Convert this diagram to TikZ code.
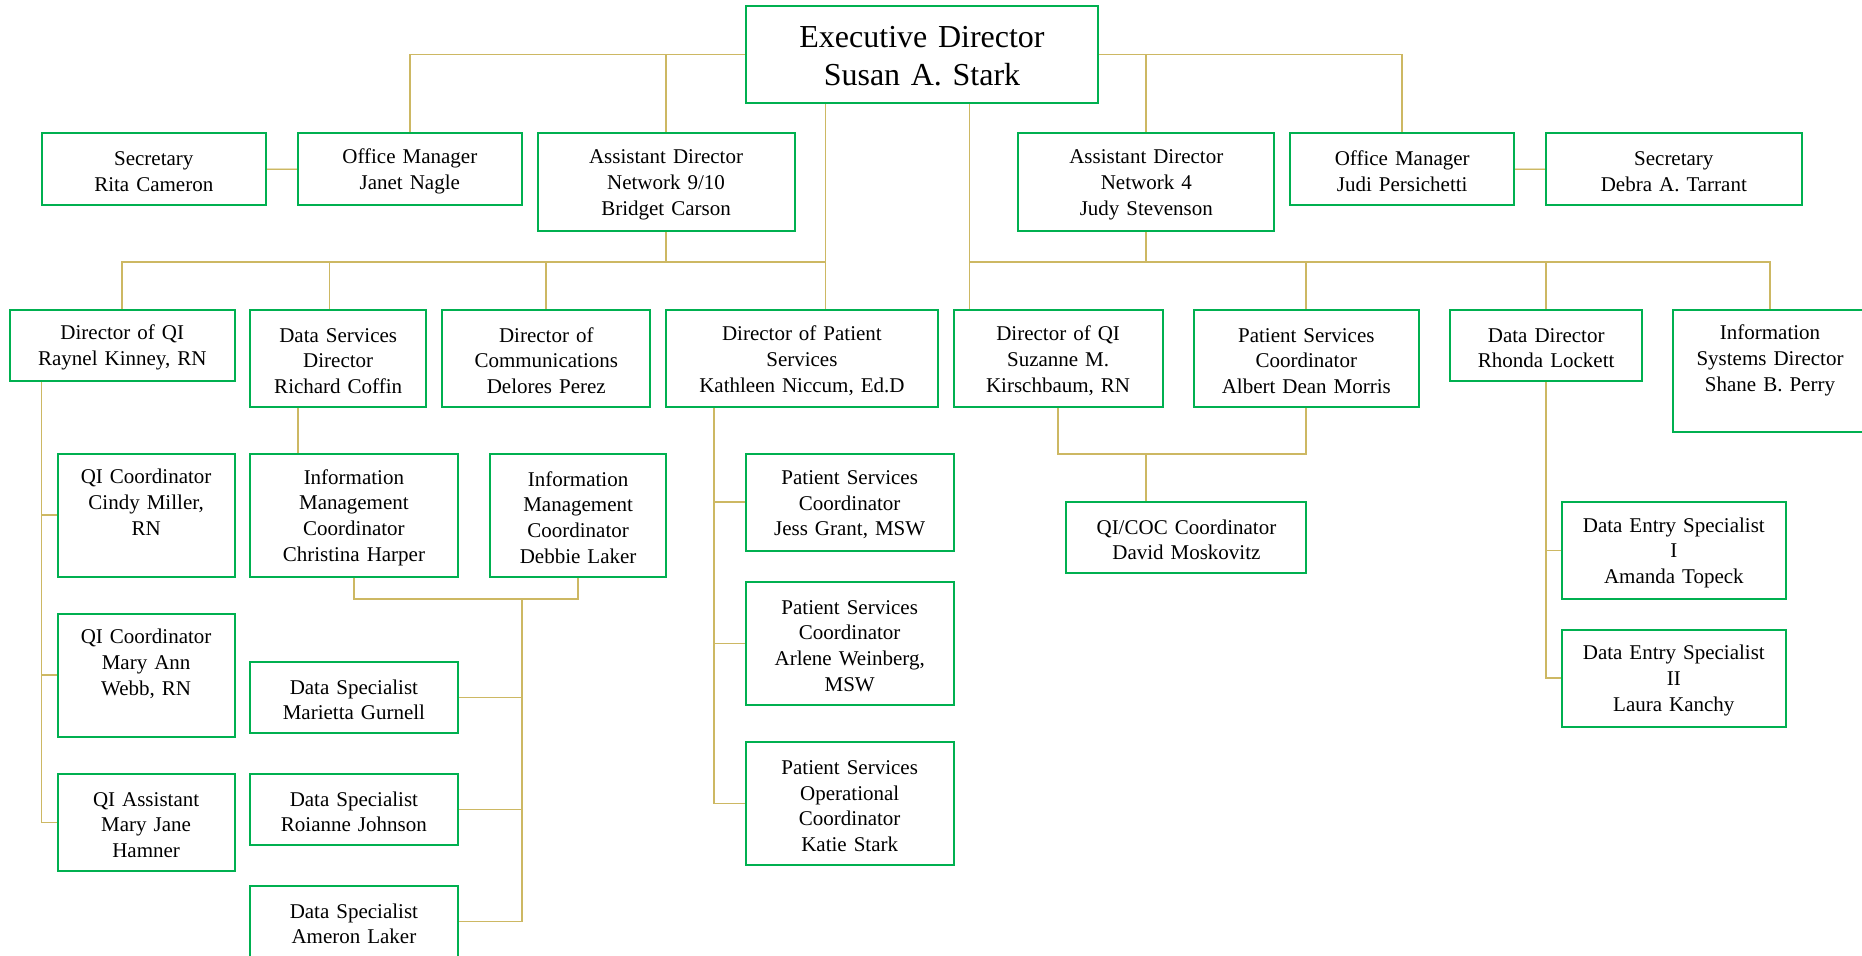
\documentclass[tikz,border=0pt]{standalone}
\usepackage{fontspec}
\setmainfont{Liberation Serif}
\definecolor{boxgreen}{RGB}{0,176,80}
\definecolor{linegold}{RGB}{205,184,99}

\begin{document}
\begin{tikzpicture}[x=0.5pt,y=-0.5pt,
		orgbox/.style={draw=boxgreen,line width=1pt,fill=white,align=center,inner xsep=0pt,inner ysep=3pt,text height=9.6pt,font=\fontsize{10.5}{12.85}\selectfont},
		orgline/.style={draw=linegold,line width=0.85pt},
		orgpair/.style={draw=linegold,line width=0.45pt,double=linegold!45,double distance=0.5pt}]
				\useasboundingbox (0,0) rectangle (1862,956);
				\node[orgbox,text width=176pt,minimum height=48.5pt,text height=12.2pt,font=\fontsize{16}{19.15}\selectfont] (exec) at (922,54.5) {Executive Director\\Susan A. Stark};
				\node[orgbox,text width=112.2pt,minimum height=36pt] (sec1) at (153.8,169) {Secretary\\Rita Cameron};
				\node[orgbox,text width=112.3pt,minimum height=36pt] (om1) at (409.8,169) {Office Manager\\Janet Nagle};
				\node[orgbox,text width=128.5pt,minimum height=49pt] (ad1) at (666,182) {Assistant Director\\Network 9/10\\Bridget Carson};
				\node[orgbox,text width=128pt,minimum height=49pt] (ad2) at (1146.3,182) {Assistant Director\\Network 4\\Judy Stevenson};
				\node[orgbox,text width=111.9pt,minimum height=36pt] (om2) at (1402.2,169) {Office Manager\\Judi Persichetti};
				\node[orgbox,text width=128.2pt,minimum height=36pt] (sec2) at (1673.8,169) {Secretary\\Debra A. Tarrant};
				\node[orgbox,text width=112.3pt,minimum height=35.7pt] (qi1) at (122.3,345.4) {Director of QI\\Raynel Kinney, RN};
				\node[orgbox,text width=88.2pt,minimum height=48.7pt] (ds) at (338.2,358.4) {Data Services\\Director\\Richard Coffin};
				\node[orgbox,text width=103.9pt,minimum height=48.7pt] (comm) at (546.3,358.4) {Director of\\Communications\\Delores Perez};
				\node[orgbox,text width=135.6pt,minimum height=48.7pt] (dps) at (801.9,358.4) {Director of Patient\\Services\\Kathleen Niccum, Ed.D};
				\node[orgbox,text width=104.5pt,minimum height=48.7pt] (qi2) at (1058.1,358.4) {Director of QI\\Suzanne M.\\Kirschbaum, RN};
				\node[orgbox,text width=112.3pt,minimum height=48.7pt] (psc) at (1306.3,358.4) {Patient Services\\Coordinator\\Albert Dean Morris};
				\node[orgbox,text width=96.2pt,minimum height=35.7pt] (dd) at (1546.2,345.4) {Data Director\\Rhonda Lockett};
				\node[orgbox,text width=96.7pt,minimum height=61.3pt,text height=12pt,text depth=43.3pt] (isd) at (1770,371) {Information\\Systems Director\\Shane B. Perry};
				\node[orgbox,text width=88.5pt,minimum height=61.5pt,text height=12pt,text depth=43.5pt] (cindy) at (146.1,515.2) {QI Coordinator\\Cindy Miller,\\RN};
				\node[orgbox,text width=103.9pt,minimum height=61.5pt] (christina) at (353.9,515.2) {Information\\Management\\Coordinator\\Christina Harper};
				\node[orgbox,text width=88.2pt,minimum height=61.5pt] (debbie) at (578.1,515.2) {Information\\Management\\Coordinator\\Debbie Laker};
				\node[orgbox,text width=103.9pt,minimum height=48.5pt] (jess) at (849.7,502.2) {Patient Services\\Coordinator\\Jess Grant, MSW};
				\node[orgbox,text width=120pt,minimum height=35.8pt] (qicoc) at (1186.4,537.5) {QI/COC Coordinator\\David Moskovitz};
				\node[orgbox,text width=112.2pt,minimum height=48.7pt] (de1) at (1673.8,550.4) {Data Entry Specialist\\I\\Amanda Topeck};
				\node[orgbox,text width=112.2pt,minimum height=48.5pt] (de2) at (1673.8,678.2) {Data Entry Specialist\\II\\Laura Kanchy};
				\node[orgbox,text width=88.5pt,minimum height=61.5pt,text height=12pt,text depth=43.5pt] (maryann) at (146.1,675.2) {QI Coordinator\\Mary Ann\\Webb, RN};
				\node[orgbox,text width=88.5pt,minimum height=48.7pt] (maryjane) at (146.1,822.4) {QI Assistant\\Mary Jane\\Hamner};
				\node[orgbox,text width=103.9pt,minimum height=35.8pt] (marietta) at (353.9,697.5) {Data Specialist\\Marietta Gurnell};
				\node[orgbox,text width=103.9pt,minimum height=35.7pt] (roianne) at (353.9,809.4) {Data Specialist\\Roianne Johnson};
				\node[orgbox,text width=103.9pt,minimum height=35.8pt] (ameron) at (353.9,921.5) {Data Specialist\\Ameron Laker};
				\node[orgbox,text width=103.9pt,minimum height=61.6pt] (arlene) at (849.7,643.4) {Patient Services\\Coordinator\\Arlene Weinberg,\\MSW};
				\node[orgbox,text width=103.9pt,minimum height=61.6pt] (katie) at (849.7,803.4) {Patient Services\\Operational\\Coordinator\\Katie Stark};
				\coordinate (jl) at (825.4,262);
				\coordinate (jr) at (969.6,262);
				\coordinate (jds) at (329.6,262);
				\coordinate (dsx) at (298,430);
				\coordinate (qv) at (41.6,822.4);
				\coordinate (im) at (522,599.3);
				\coordinate (pv) at (713.8,803.4);
				\coordinate (qc) at (1146,454.3);
				\draw[orgline] (exec.west) -| (om1.north);
				\draw[orgline] (ad1.north) -- (ad1.north |- exec.west);
				\draw[orgline] (exec.east) -| (om2.north);
				\draw[orgline] (ad2.north) -- (ad2.north |- exec.east);
				\draw[orgpair] (sec1) -- (om1);
				\draw[orgpair] (om2) -- (sec2);
				\draw[orgline] (exec.south -| jl) -- (dps.north -| jl);
				\draw[orgline] (qi1.north) |- (jl);
				\draw[orgline] (ds.north -| jds) -- (jds);
				\draw[orgline] (comm.north) -- (comm.north |- jl);
				\draw[orgline] (ad1.south) -- (ad1.south |- jl);
				\draw[orgline] (exec.south -| jr) -- (qi2.north -| jr);
				\draw[orgline] (jr) -| (isd.north);
				\draw[orgline] (ad2.south) -- (ad2.south |- jr);
				\draw[orgline] (psc.north) -- (psc.north |- jr);
				\draw[orgline] (dd.north) -- (dd.north |- jr);
				\draw[orgline] (qi1.south -| qv) -- (qv) -- (maryjane.west);
				\draw[orgline] (cindy.west) -- (cindy.west -| qv);
				\draw[orgline] (maryann.west) -- (maryann.west -| qv);
				\draw[orgline] (ds.south -| dsx) -- (christina.north -| dsx);
				\draw[orgline] (christina.south) |- (im) -| (debbie.south);
				\draw[orgline] (im) |- (ameron.east);
				\draw[orgline] (marietta.east) -- (marietta.east -| im);
				\draw[orgline] (roianne.east) -- (roianne.east -| im);
				\draw[orgline] (dps.south -| pv) -- (pv) -- (katie.west);
				\draw[orgline] (jess.west) -- (jess.west -| pv);
				\draw[orgline] (arlene.west) -- (arlene.west -| pv);
				\draw[orgline] (qi2.south) |- (qc) -| (psc.south);
				\draw[orgline] (qc) -- (qicoc.north -| qc);
				\draw[orgline] (dd.south) |- (de2.west);
				\draw[orgline] (de1.west) -- (de1.west -| dd.south);
			\end{tikzpicture}
\end{document}
